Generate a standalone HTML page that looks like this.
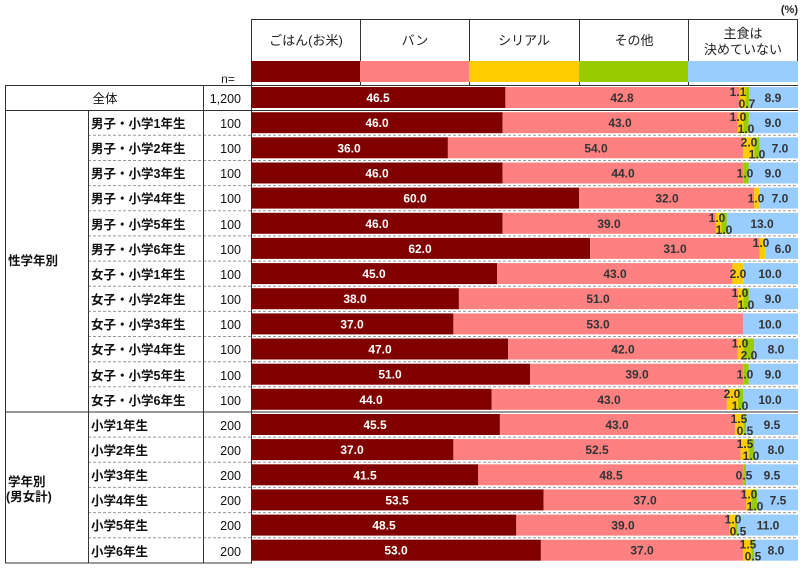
<!DOCTYPE html>
<html><head><meta charset="utf-8"><style>
body{margin:0;background:#fff}
svg{display:block}
text{font-family:"Liberation Sans","Noto Sans CJK JP",sans-serif}
.h{font-size:13px;fill:#222;text-anchor:middle}
.l{font-size:12.5px;fill:#111;font-weight:bold}
.n{font-size:12.5px;fill:#111;text-anchor:end}
.w{font-size:12px;fill:#fff;font-weight:bold;text-anchor:middle}
.d{font-size:12px;fill:#333;font-weight:bold;text-anchor:middle}
.r{fill:#800000}.b{fill:#FF8080}.c{fill:#FFCC00}.o{fill:#99CC00}.x{fill:#99CCFF}
</style></head><body>
<svg width="805" height="569" viewBox="0 0 805 569">
<text x="798" y="13" style="font-size:11px;font-weight:bold;fill:#222;text-anchor:end">(%)</text>
<rect x="251.5" y="19.5" width="546" height="42" fill="none" stroke="#333"/>
<g stroke="#333"><line x1="360.5" y1="19" x2="360.5" y2="85"/><line x1="469.5" y1="19" x2="469.5" y2="85"/><line x1="579.5" y1="19" x2="579.5" y2="85"/><line x1="688.5" y1="19" x2="688.5" y2="85"/><line x1="251.5" y1="19" x2="251.5" y2="85"/></g>
<text class="h" x="306" y="45">ごはん(お米)</text>
<text class="h" x="415" y="45">バン</text>
<text class="h" x="524" y="45">シリアル</text>
<text class="h" x="634" y="45">その他</text>
<text class="h" x="743" y="38">主食は</text>
<text class="h" x="743" y="54">決めていない</text>
<rect class="r" x="251" y="61" width="109" height="21"/>
<rect class="b" x="360" y="61" width="109" height="21"/>
<rect class="c" x="469" y="61" width="110" height="21"/>
<rect class="o" x="579" y="61" width="109" height="21"/>
<rect class="x" x="688" y="61" width="110" height="21"/>
<text x="228" y="83" style="font-size:12px;fill:#222;text-anchor:middle">n=</text>
<g stroke="#999" stroke-dasharray="3,2">
<line x1="88" y1="135.3" x2="798" y2="135.3"/><line x1="88" y1="160.5" x2="798" y2="160.5"/><line x1="88" y1="185.6" x2="798" y2="185.6"/><line x1="88" y1="210.8" x2="798" y2="210.8"/><line x1="88" y1="235.9" x2="798" y2="235.9"/><line x1="88" y1="261.1" x2="798" y2="261.1"/><line x1="88" y1="286.2" x2="798" y2="286.2"/><line x1="88" y1="311.4" x2="798" y2="311.4"/><line x1="88" y1="336.5" x2="798" y2="336.5"/><line x1="88" y1="361.7" x2="798" y2="361.7"/><line x1="88" y1="386.8" x2="798" y2="386.8"/>
<line x1="88" y1="437.1" x2="798" y2="437.1"/><line x1="88" y1="462.3" x2="798" y2="462.3"/><line x1="88" y1="487.4" x2="798" y2="487.4"/><line x1="88" y1="512.6" x2="798" y2="512.6"/><line x1="88" y1="537.7" x2="798" y2="537.7"/>
</g>
<g stroke="#333" fill="none">
<rect x="5.5" y="85.5" width="246" height="477.5"/>
<line x1="5" y1="110.5" x2="798" y2="110.5"/>
<line x1="5" y1="412" x2="798" y2="412"/>
<line x1="251" y1="85.5" x2="798" y2="85.5"/>
<line x1="88.5" y1="110" x2="88.5" y2="563"/>
<line x1="203.5" y1="85" x2="203.5" y2="563"/>
</g>
<text class="l" x="105" y="103" text-anchor="middle" style="font-weight:normal">全体</text>
<text class="n" x="241" y="103">1,200</text>
<text class="l" x="8" y="265">性学年別</text>
<text class="l" x="8" y="486">学年別</text>
<text class="l" x="6" y="501">(男女計)</text>
<g class="l">
<text x="91" y="128">男子・小学1年生</text><text x="91" y="153">男子・小学2年生</text><text x="91" y="178">男子・小学3年生</text><text x="91" y="203">男子・小学4年生</text><text x="91" y="229">男子・小学5年生</text><text x="91" y="254">男子・小学6年生</text><text x="91" y="279">女子・小学1年生</text><text x="91" y="304">女子・小学2年生</text><text x="91" y="329">女子・小学3年生</text><text x="91" y="354">女子・小学4年生</text><text x="91" y="380">女子・小学5年生</text><text x="91" y="405">女子・小学6年生</text>
<text x="91" y="430">小学1年生</text><text x="91" y="455">小学2年生</text><text x="91" y="480">小学3年生</text><text x="91" y="505">小学4年生</text><text x="91" y="530">小学5年生</text><text x="91" y="556">小学6年生</text>
</g>
<g class="n">
<text x="241" y="128">100</text><text x="241" y="153">100</text><text x="241" y="178">100</text><text x="241" y="203">100</text><text x="241" y="229">100</text><text x="241" y="254">100</text><text x="241" y="279">100</text><text x="241" y="304">100</text><text x="241" y="329">100</text><text x="241" y="354">100</text><text x="241" y="380">100</text><text x="241" y="405">100</text>
<text x="241" y="430">200</text><text x="241" y="455">200</text><text x="241" y="480">200</text><text x="241" y="505">200</text><text x="241" y="530">200</text><text x="241" y="556">200</text>
</g>
<g transform="translate(0,87)"><rect class="r" x="251" width="254.4" height="21"/><rect class="b" x="505.4" width="234.1" height="21"/><rect class="c" x="739.5" width="6" height="21"/><rect class="o" x="745.5" width="3.8" height="21"/><rect class="x" x="749.3" width="48.7" height="21"/>
<text class="w" x="378" y="15">46.5</text><text class="d" x="622" y="15">42.8</text><text class="d" x="738" y="9">1.1</text><text class="d" x="747" y="21">0.7</text><text class="d" x="773" y="15">8.9</text></g>
<g transform="translate(0,112.2)"><rect class="r" x="251" width="251.6" height="21"/><rect class="b" x="502.6" width="235.2" height="21"/><rect class="c" x="737.8" width="5.5" height="21"/><rect class="o" x="743.3" width="5.5" height="21"/><rect class="x" x="748.8" width="49.2" height="21"/>
<text class="w" x="377" y="15">46.0</text><text class="d" x="620" y="15">43.0</text><text class="d" x="738" y="9">1.0</text><text class="d" x="746" y="21">1.0</text><text class="d" x="773" y="15">9.0</text></g>
<g transform="translate(0,137.3)"><rect class="r" x="251" width="196.9" height="21"/><rect class="b" x="447.9" width="295.4" height="21"/><rect class="c" x="743.3" width="10.9" height="21"/><rect class="o" x="754.2" width="5.5" height="21"/><rect class="x" x="759.7" width="38.3" height="21"/>
<text class="w" x="349" y="15">36.0</text><text class="d" x="596" y="15">54.0</text><text class="d" x="749" y="9">2.0</text><text class="d" x="757" y="21">1.0</text><text class="d" x="780" y="15">7.0</text></g>
<g transform="translate(0,162.5)"><rect class="r" x="251" width="251.6" height="21"/><rect class="b" x="502.6" width="240.7" height="21"/><rect class="o" x="743.3" width="5.5" height="21"/><rect class="x" x="748.8" width="49.2" height="21"/>
<text class="w" x="377" y="15">46.0</text><text class="d" x="623" y="15">44.0</text><text class="d" x="745" y="15">1.0</text><text class="d" x="773" y="15">9.0</text></g>
<g transform="translate(0,187.6)"><rect class="r" x="251" width="328.2" height="21"/><rect class="b" x="579.2" width="175" height="21"/><rect class="c" x="754.2" width="5.5" height="21"/><rect class="x" x="759.7" width="38.3" height="21"/>
<text class="w" x="415" y="15">60.0</text><text class="d" x="667" y="15">32.0</text><text class="d" x="756" y="15">1.0</text><text class="d" x="780" y="15">7.0</text></g>
<g transform="translate(0,212.8)"><rect class="r" x="251" width="251.6" height="21"/><rect class="b" x="502.6" width="213.3" height="21"/><rect class="c" x="715.9" width="5.5" height="21"/><rect class="o" x="721.4" width="5.5" height="21"/><rect class="x" x="726.9" width="71.1" height="21"/>
<text class="w" x="377" y="15">46.0</text><text class="d" x="609" y="15">39.0</text><text class="d" x="717" y="9">1.0</text><text class="d" x="724" y="21">1.0</text><text class="d" x="762" y="15">13.0</text></g>
<g transform="translate(0,237.9)"><rect class="r" x="251" width="339.1" height="21"/><rect class="b" x="590.1" width="169.6" height="21"/><rect class="c" x="759.7" width="5.5" height="21"/><rect class="x" x="765.2" width="32.8" height="21"/>
<text class="w" x="420" y="15">62.0</text><text class="d" x="675" y="15">31.0</text><text class="d" x="761" y="9">1.0</text><text class="d" x="783" y="15">6.0</text></g>
<g transform="translate(0,263.1)"><rect class="r" x="251" width="246.2" height="21"/><rect class="b" x="497.2" width="235.2" height="21"/><rect class="c" x="732.4" width="10.9" height="21"/><rect class="x" x="743.3" width="54.7" height="21"/>
<text class="w" x="374" y="15">45.0</text><text class="d" x="615" y="15">43.0</text><text class="d" x="738" y="15">2.0</text><text class="d" x="770" y="15">10.0</text></g>
<g transform="translate(0,288.2)"><rect class="r" x="251" width="207.9" height="21"/><rect class="b" x="458.9" width="279" height="21"/><rect class="c" x="737.9" width="5.5" height="21"/><rect class="o" x="743.4" width="5.5" height="21"/><rect class="x" x="748.9" width="49.1" height="21"/>
<text class="w" x="355" y="15">38.0</text><text class="d" x="598" y="15">51.0</text><text class="d" x="740" y="9">1.0</text><text class="d" x="746" y="21">1.0</text><text class="d" x="773" y="15">9.0</text></g>
<g transform="translate(0,313.4)"><rect class="r" x="251" width="202.4" height="21"/><rect class="b" x="453.4" width="289.9" height="21"/><rect class="x" x="743.3" width="54.7" height="21"/>
<text class="w" x="352" y="15">37.0</text><text class="d" x="598" y="15">53.0</text><text class="d" x="770" y="15">10.0</text></g>
<g transform="translate(0,338.5)"><rect class="r" x="251" width="257.1" height="21"/><rect class="b" x="508.1" width="229.7" height="21"/><rect class="c" x="737.8" width="5.5" height="21"/><rect class="o" x="743.3" width="10.9" height="21"/><rect class="x" x="754.2" width="43.8" height="21"/>
<text class="w" x="380" y="15">47.0</text><text class="d" x="623" y="15">42.0</text><text class="d" x="740" y="9">1.0</text><text class="d" x="749" y="21">2.0</text><text class="d" x="776" y="15">8.0</text></g>
<g transform="translate(0,363.7)"><rect class="r" x="251" width="279" height="21"/><rect class="b" x="530" width="213.3" height="21"/><rect class="o" x="743.3" width="5.5" height="21"/><rect class="x" x="748.8" width="49.2" height="21"/>
<text class="w" x="390" y="15">51.0</text><text class="d" x="637" y="15">39.0</text><text class="d" x="745" y="15">1.0</text><text class="d" x="773" y="15">9.0</text></g>
<g transform="translate(0,388.8)"><rect class="r" x="251" width="240.7" height="21"/><rect class="b" x="491.7" width="235.2" height="21"/><rect class="c" x="726.9" width="10.9" height="21"/><rect class="o" x="737.8" width="5.5" height="21"/><rect class="x" x="743.3" width="54.7" height="21"/>
<text class="w" x="371" y="15">44.0</text><text class="d" x="609" y="15">43.0</text><text class="d" x="732" y="9">2.0</text><text class="d" x="740" y="21">1.0</text><text class="d" x="770" y="15">10.0</text></g>
<g transform="translate(0,414)"><rect class="r" x="251" width="248.9" height="21"/><rect class="b" x="499.9" width="235.2" height="21"/><rect class="c" x="735.1" width="8.2" height="21"/><rect class="o" x="743.3" width="2.7" height="21"/><rect class="x" x="746" width="52" height="21"/>
<text class="w" x="375" y="15">45.5</text><text class="d" x="617" y="15">43.0</text><text class="d" x="739" y="9">1.5</text><text class="d" x="745" y="21">0.5</text><text class="d" x="772" y="15">9.5</text></g>
<g transform="translate(0,439.1)"><rect class="r" x="251" width="202.4" height="21"/><rect class="b" x="453.4" width="287.2" height="21"/><rect class="c" x="740.6" width="8.2" height="21"/><rect class="o" x="748.8" width="5.5" height="21"/><rect class="x" x="754.3" width="43.7" height="21"/>
<text class="w" x="352" y="15">37.0</text><text class="d" x="597" y="15">52.5</text><text class="d" x="745" y="9">1.5</text><text class="d" x="751" y="21">1.0</text><text class="d" x="776" y="15">8.0</text></g>
<g transform="translate(0,464.3)"><rect class="r" x="251" width="227" height="21"/><rect class="b" x="478" width="265.3" height="21"/><rect class="o" x="743.3" width="2.7" height="21"/><rect class="x" x="746" width="52" height="21"/>
<text class="w" x="365" y="15">41.5</text><text class="d" x="611" y="15">48.5</text><text class="d" x="744" y="15">0.5</text><text class="d" x="772" y="15">9.5</text></g>
<g transform="translate(0,489.4)"><rect class="r" x="251" width="292.6" height="21"/><rect class="b" x="543.6" width="202.4" height="21"/><rect class="c" x="746" width="5.5" height="21"/><rect class="o" x="751.5" width="5.5" height="21"/><rect class="x" x="757" width="41" height="21"/>
<text class="w" x="397" y="15">53.5</text><text class="d" x="645" y="15">37.0</text><text class="d" x="749" y="9">1.0</text><text class="d" x="755" y="21">1.0</text><text class="d" x="778" y="15">7.5</text></g>
<g transform="translate(0,514.6)"><rect class="r" x="251" width="265.3" height="21"/><rect class="b" x="516.3" width="213.3" height="21"/><rect class="c" x="729.6" width="5.5" height="21"/><rect class="o" x="735.1" width="2.7" height="21"/><rect class="x" x="737.8" width="60.2" height="21"/>
<text class="w" x="384" y="15">48.5</text><text class="d" x="623" y="15">39.0</text><text class="d" x="733" y="9">1.0</text><text class="d" x="738" y="21">0.5</text><text class="d" x="768" y="15">11.0</text></g>
<g transform="translate(0,539.7)"><rect class="r" x="251" width="289.9" height="21"/><rect class="b" x="540.9" width="202.4" height="21"/><rect class="c" x="743.3" width="8.2" height="21"/><rect class="o" x="751.5" width="2.7" height="21"/><rect class="x" x="754.2" width="43.8" height="21"/>
<text class="w" x="396" y="15">53.0</text><text class="d" x="642" y="15">37.0</text><text class="d" x="748" y="9">1.5</text><text class="d" x="753" y="21">0.5</text><text class="d" x="776" y="15">8.0</text></g>
</svg>
</body></html>
